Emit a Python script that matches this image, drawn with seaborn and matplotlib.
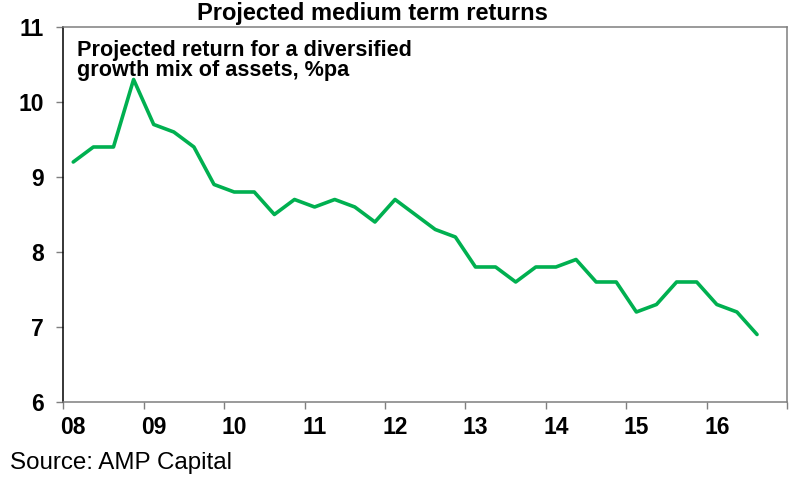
import numpy as np
import pandas as pd
import matplotlib
matplotlib.use("Agg")
import matplotlib.pyplot as plt
import seaborn as sns

# === Data: projected return, quarterly from Q1 2008 ===
quarters = pd.period_range("2008Q1", periods=35, freq="Q")
returns = [9.2, 9.4, 9.4, 10.3, 9.7, 9.6, 9.4, 8.9, 8.8, 8.8,
           8.5, 8.7, 8.6, 8.7, 8.6, 8.4, 8.7, 8.5, 8.3, 8.2,
           7.8, 7.8, 7.6, 7.8, 7.8, 7.9, 7.6, 7.6, 7.2, 7.3,
           7.6, 7.6, 7.3, 7.2, 6.9]
year_ticks = list(range(2008, 2018))
year_labels = ["08", "09", "10", "11", "12", "13", "14", "15", "16"]

# quarter midpoints as decimal years
df = pd.DataFrame({
    "year": [q.year + (q.quarter - 1) * 0.25 + 0.125 for q in quarters],
    "ret": returns,
})

# === Plot config ===
sns.set_theme(style="white")
plt.rcParams["font.family"] = ["Liberation Sans", "DejaVu Sans"]
plt.rcParams["text.color"] = "black"
plt.rcParams["xtick.color"] = "black"
plt.rcParams["ytick.color"] = "black"

fig = plt.figure(figsize=(8, 4.82), dpi=100)
ax = fig.add_axes([0.079, 0.166, 0.905, 0.778])

sns.lineplot(data=df, x="year", y="ret", color="#00B050", linewidth=2.6, ax=ax)

ax.set_xlim(2008, 2017)
ax.set_ylim(6, 11)
ax.set_xlabel("")
ax.set_ylabel("")

# year ticks unlabeled, labels sit a little right of each tick
ax.set_xticks(year_ticks)
ax.set_xticklabels([])
ax.set_xticks([y + 0.125 for y in year_ticks[:-1]], minor=True)
ax.set_xticklabels(year_labels, minor=True, fontsize=16.5, fontweight="bold")
ax.tick_params(axis="x", which="major", direction="out", length=5, width=1,
               color="#7f7f7f", bottom=True)
ax.tick_params(axis="x", which="minor", length=0, pad=10)

ax.set_yticks([6, 7, 8, 9, 10, 11])
ax.set_yticklabels(["6", "7", "8", "9", "10", "11"], fontsize=16.5, fontweight="bold")
ax.tick_params(axis="y", direction="out", length=5, width=1, color="#7f7f7f",
               left=True, pad=9)

for side in ["top", "right", "bottom"]:
    ax.spines[side].set_color("#7f7f7f")
    ax.spines[side].set_linewidth(1.1)
ax.spines["left"].set_color("black")
ax.spines["left"].set_linewidth(1.1)

ax.text(0.019, 0.965, "Projected return for a diversified\ngrowth mix of assets, %pa",
        transform=ax.transAxes, ha="left", va="top", fontsize=15.6,
        fontweight="bold", linespacing=0.95)

fig.text(0.465, 0.972, "Projected medium term returns", ha="center", va="center",
         fontsize=17, fontweight="bold")
fig.text(0.012, 0.04, "Source: AMP Capital", ha="left", va="center", fontsize=17.4)

fig.savefig("out.png", dpi=100)
